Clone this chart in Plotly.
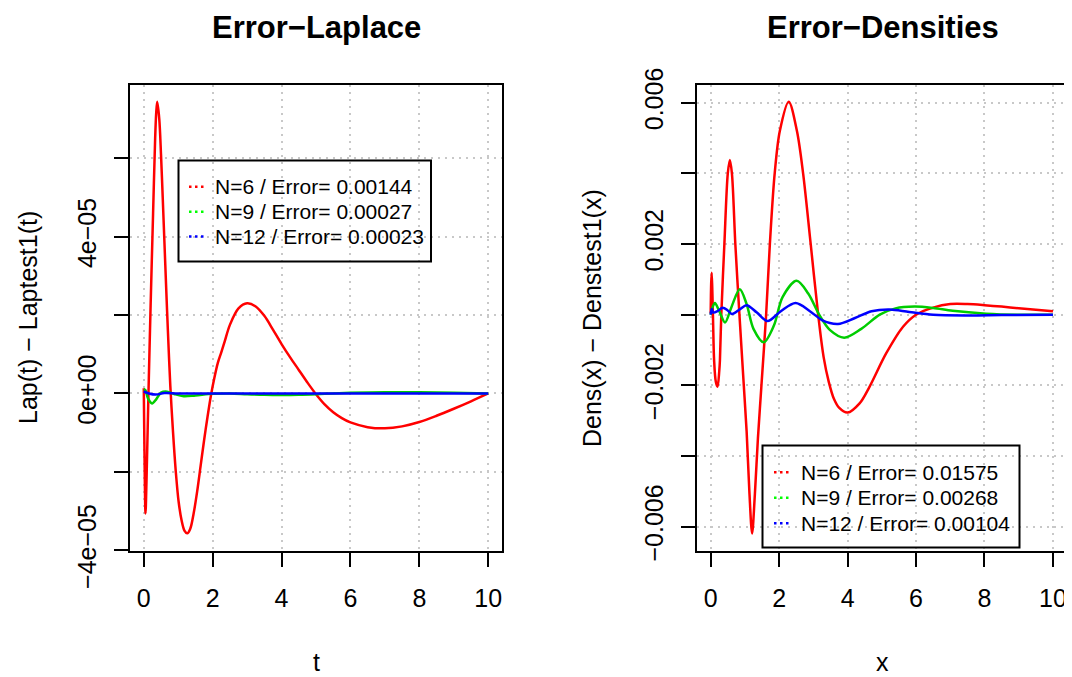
import plotly.graph_objects as go

W, H = 1072, 677
OFF = 8  # the page body adds an 8px margin; compensate so pixel targets land where intended
FONT = "Liberation Sans, Arial, Helvetica, sans-serif"

# ---------------- Left panel: Error-Laplace ----------------
lap_t_n6 = [0.0, 0.02, 0.05, 0.08, 0.136, 0.2, 0.27, 0.33, 0.36, 0.39, 0.45, 0.5, 0.55,
            0.6, 0.65, 0.7, 0.77, 0.85, 0.93, 1.01, 1.1, 1.18, 1.26, 1.35, 1.45, 1.55,
            1.65, 1.75, 1.85, 1.95, 2.05, 2.15, 2.25, 2.35, 2.5, 2.75, 3.0, 3.25, 3.5,
            3.75, 4.0, 4.25, 4.5, 4.75, 5.0, 5.25, 5.5, 5.75, 6.0, 6.5, 7.0, 7.5, 8.0,
            8.5, 9.0, 9.5, 10.0]
lap_err_n6 = [0.13e-5, -1.5e-5, -3.06e-5, -2.2e-5, 0.0, 2.3e-5, 4.59e-5, 6.5e-5, 7.15e-5,
              7.44e-5, 7.0e-5, 6.1e-5, 5.0e-5, 3.85e-5, 2.7e-5, 1.6e-5, 0.2e-5, -1.0e-5,
              -2.0e-5, -2.75e-5, -3.25e-5, -3.5e-5, -3.57e-5, -3.45e-5, -3.05e-5, -2.5e-5,
              -1.85e-5, -1.2e-5, -0.6e-5, -0.05e-5, 0.4e-5, 0.78e-5, 1.05e-5, 1.33e-5,
              1.75e-5, 2.17e-5, 2.3e-5, 2.22e-5, 1.98e-5, 1.63e-5, 1.26e-5, 0.92e-5,
              0.6e-5, 0.28e-5, -0.02e-5, -0.28e-5, -0.48e-5, -0.63e-5, -0.74e-5, -0.86e-5,
              -0.89e-5, -0.84e-5, -0.73e-5, -0.57e-5, -0.39e-5, -0.2e-5, 0.0]

lap_t_n9 = [0.0, 0.05, 0.12, 0.24, 0.36, 0.5, 0.68, 0.9, 1.16, 1.5, 2.0, 2.5, 3.0, 3.5,
            4.0, 4.5, 5.0, 5.5, 6.0, 7.0, 8.0, 9.0, 10.0]
lap_err_n9 = [0.11e-5, 0.08e-5, -0.12e-5, -0.255e-5, -0.15e-5, 0.02e-5, 0.045e-5,
              -0.02e-5, -0.07e-5, -0.05e-5, -0.01e-5, 0.0, -0.02e-5, -0.035e-5, -0.04e-5,
              -0.035e-5, -0.02e-5, 0.0, 0.015e-5, 0.03e-5, 0.03e-5, 0.015e-5, 0.0]

lap_t_n12 = [0.0, 0.15, 0.35, 0.6, 1.0, 2.0, 4.0, 6.0, 8.0, 10.0]
lap_err_n12 = [0.05e-5, 0.0, -0.03e-5, 0.01e-5, 0.0, 0.0, 0.0, 0.0, 0.0, 0.0]

# ---------------- Right panel: Error-Densities ----------------
den_x_n6 = [0.0, 0.015, 0.03, 0.05, 0.07, 0.1, 0.15, 0.2, 0.25, 0.27, 0.31, 0.4, 0.5,
            0.56, 0.62, 0.72, 0.84, 0.97, 1.05, 1.13, 1.21, 1.29, 1.38, 1.48, 1.62,
            1.73, 1.87, 2.02, 2.28, 2.52, 2.7, 2.92, 3.14, 3.3, 3.45, 3.6, 3.75, 4.0,
            4.35, 4.64, 5.13, 5.62, 6.0, 6.5, 7.0, 7.5, 8.0, 8.5, 9.0, 9.5, 10.0]
den_err_n6 = [0.00004, 0.0009, 0.00119, 0.0006, -0.0002, -0.00129, -0.0019, -0.00204,
              -0.0016, -0.00129, 0.0, 0.002, 0.004, 0.00438, 0.004, 0.002, 0.0,
              -0.00204, -0.0033, -0.005, -0.00619, -0.0051, -0.0035, -0.00204, 0.0,
              0.00202, 0.004, 0.0052, 0.00603, 0.0052, 0.004, 0.00202, 0.0, -0.0012,
              -0.0019, -0.00238, -0.00263, -0.00277, -0.00251, -0.00204, -0.00109,
              -0.00034, 0.0, 0.0002, 0.0003, 0.0003, 0.00027, 0.00023, 0.00018,
              0.00014, 0.0001]

den_x_n9 = [0.0, 0.05, 0.125, 0.25, 0.42, 0.6, 0.85, 1.05, 1.25, 1.55, 1.85, 2.1, 2.51,
            2.85, 3.17, 3.48, 3.9, 4.4, 4.94, 5.4, 5.96, 6.5, 7.07, 8.05, 9.0, 10.0]
den_err_n9 = [0.0, 0.0002, 0.00033, 0.0001, -0.00022, 0.0002, 0.00072, 0.0003, -0.0004,
              -0.00078, -0.0003, 0.0005, 0.00096, 0.0006, 0.0, -0.00043, -0.00065,
              -0.0004, 0.0, 0.00018, 0.00023, 0.00019, 0.00011, 0.00003, 0.0, 0.0]

den_x_n12 = [0.0, 0.03, 0.08, 0.2, 0.35, 0.5, 0.62, 0.85, 1.05, 1.35, 1.66, 2.05, 2.48,
             2.9, 3.25, 3.72, 4.2, 4.7, 5.23, 5.8, 6.5, 7.5, 8.5, 10.0]
den_err_n12 = [0.0, 0.00016, 0.00006, 0.0001, 0.0002, 0.00012, 0.00002, 0.00015, 0.00027,
               0.00006, -0.00018, 0.0001, 0.00033, 0.0001, -0.00015, -0.00026, -0.0001,
               0.0001, 0.00015, 0.00008, 0.0, -0.00002, -0.00001, 0.0]

# ---------------- text ----------------
titles = ["Error\u2212Laplace", "Error\u2212Densities"]
xlabels = ["t", "x"]
ylabels = ["Lap(t) \u2212 Laptest1(t)", "Dens(x) \u2212 Denstest1(x)"]
lap_legend = ["N=6 / Error= 0.00144", "N=9 / Error= 0.00027", "N=12 / Error= 0.00023"]
den_legend = ["N=6 / Error= 0.01575", "N=9 / Error= 0.00268", "N=12 / Error= 0.00104"]

x_ticks = [0, 2, 4, 6, 8, 10]
lap_yticks = [-4e-5, -2e-5, 0, 2e-5, 4e-5, 6e-5]
lap_ytext = ["\u22124e\u221205", "", "0e+00", "", "4e\u221205", ""]
den_yticks = [-0.006, -0.004, -0.002, 0, 0.002, 0.004, 0.006]
den_ytext = ["\u22120.006", "", "\u22120.002", "", "0.002", "", "0.006"]

line_colors = ["#FF0000", "#00CD00", "#0000FF"]
legend_colors = ["#FF0000", "#00FF00", "#0000FF"]


def px_x(p):
    return (p - OFF) / W


def px_y(p):
    return 1 - (p - OFF) / H


fig = go.Figure()
for xs, ys, c in zip([lap_t_n6, lap_t_n9, lap_t_n12], [lap_err_n6, lap_err_n9, lap_err_n12], line_colors):
    fig.add_trace(go.Scatter(x=xs, y=ys, mode="lines", line=dict(color=c, width=2.5, shape="spline", smoothing=0.9),
                             xaxis="x", yaxis="y", showlegend=False, hoverinfo="skip"))
for xs, ys, c in zip([den_x_n6, den_x_n9, den_x_n12], [den_err_n6, den_err_n9, den_err_n12], line_colors):
    fig.add_trace(go.Scatter(x=xs, y=ys, mode="lines", line=dict(color=c, width=2.5, shape="spline", smoothing=0.9),
                             xaxis="x2", yaxis="y2", showlegend=False, hoverinfo="skip"))

common = dict(showline=True, linecolor="black", linewidth=2, mirror=True, ticks="outside",
              ticklen=14, tickwidth=1.5, tickcolor="black", showgrid=True, gridcolor="#C8C8C8",
              griddash="2px,5px", gridwidth=1.5, zeroline=False, layer="above traces",
              automargin=False,
              tickfont=dict(size=25, family=FONT, color="black"), fixedrange=True)

ydom = [px_y(551), px_y(85)]
fig.update_layout(
    width=W, height=H, margin=dict(l=0, r=0, t=0, b=0, pad=0), autosize=False,
    paper_bgcolor="white", plot_bgcolor="white", showlegend=False,
    xaxis=dict(domain=[px_x(130), px_x(502)], range=[-0.4, 10.4], tickvals=x_ticks,
               ticktext=[str(v) for v in x_ticks], anchor="y", ticklabelstandoff=10, **common),
    yaxis=dict(domain=ydom, range=[-4.02e-5, 7.87e-5], tickvals=lap_yticks, ticktext=lap_ytext,
               tickangle=-90, anchor="x", ticklabelstandoff=8, **common),
    xaxis2=dict(domain=[px_x(697), px_x(1068)], range=[-0.4, 10.44], tickvals=x_ticks,
                ticktext=[str(v) for v in x_ticks], anchor="y2", ticklabelstandoff=10, **common),
    yaxis2=dict(domain=ydom, range=[-0.006687, 0.006501], tickvals=den_yticks, ticktext=den_ytext,
                tickangle=-90, anchor="x2", ticklabelstandoff=8, **common),
)

annots = []
shapes = []
# titles and axis labels
for cx, title, xl, yl, ylx in zip([316, 882.5], titles, xlabels, ylabels, [28, 592]):
    annots.append(dict(text="<b>%s</b>" % title, x=px_x(cx), y=px_y(28), xref="paper", yref="paper",
                       showarrow=False, xanchor="center", yanchor="middle",
                       font=dict(size=31, family=FONT, color="black")))
    annots.append(dict(text=xl, x=px_x(cx), y=px_y(662), xref="paper", yref="paper",
                       showarrow=False, xanchor="center", yanchor="middle",
                       font=dict(size=25, family=FONT, color="black")))
    annots.append(dict(text=yl, x=px_x(ylx), y=px_y(318), xref="paper", yref="paper", textangle=-90,
                       showarrow=False, xanchor="center", yanchor="middle",
                       font=dict(size=25, family=FONT, color="black")))

# legends (box, dotted samples, labels)
legend_specs = [
    (lap_legend, (178.5, 160.5, 431, 261.5), [186.7, 211.7, 236.5], (189, 204), 213),
    (den_legend, (762.5, 445.5, 1019.5, 547.5), [472.3, 497.8, 523.3], (774, 789), 799),
]
for labels, box, rows, samp, tx in legend_specs:
    shapes.append(dict(type="rect", xref="paper", yref="paper", x0=px_x(box[0]), x1=px_x(box[2]),
                       y0=px_y(box[3]), y1=px_y(box[1]), line=dict(color="black", width=2)))
    for lab, ry, col in zip(labels, rows, legend_colors):
        shapes.append(dict(type="line", xref="paper", yref="paper", x0=px_x(samp[0]), x1=px_x(samp[1]),
                           y0=px_y(ry), y1=px_y(ry), line=dict(color=col, width=2.5, dash="2.5px,3.5px")))
        annots.append(dict(text=lab, x=px_x(tx), y=px_y(ry), xref="paper", yref="paper",
                           showarrow=False, xanchor="left", yanchor="middle",
                           font=dict(size=21, family=FONT, color="black")))

fig.update_layout(annotations=annots, shapes=shapes)
fig.write_html("out.html")
